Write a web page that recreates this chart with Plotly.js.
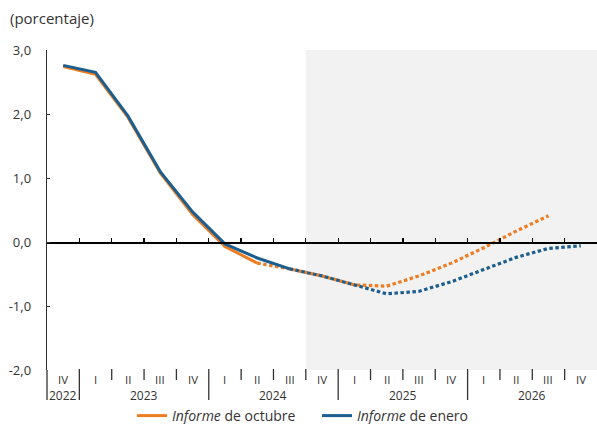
<!DOCTYPE html>
<html>
<head>
<meta charset="utf-8">
<script src="https://cdn.plot.ly/plotly-3.0.1.min.js"></script>
<style>html,body{margin:0;padding:0;background:#fff;}#chart{width:597px;height:424px;}</style>
</head>
<body>
<div id="chart"></div>
<script>
const quarters = ['IV','I','II','III','IV','I','II','III','IV','I','II','III','IV','I','II','III','IV'];
const years = ['2022','2023','2024','2025','2026'];
const yearCenters = [0, 2.5, 6.5, 10.5, 14.5];
const yearBoundaries = [0.5, 4.5, 8.5, 12.5];
const quarterBoundaries = [1.5, 2.5, 3.5, 5.5, 6.5, 7.5, 9.5, 10.5, 11.5, 13.5, 14.5, 15.5];
const octubre = [2.74, 2.62, 1.95, 1.08, 0.43, -0.07, -0.33, -0.42, -0.53, -0.67, -0.69, -0.53, -0.33, -0.09, 0.17, 0.41, null];
const enero = [2.76, 2.65, 1.97, 1.10, 0.47, -0.03, -0.25, -0.42, -0.53, -0.67, -0.81, -0.77, -0.62, -0.43, -0.24, -0.10, -0.06];
const octLastObs = 6;   // II 2024
const eneLastObs = 7;   // III 2024
const yTicks = [-2, -1, 0, 1, 2, 3];
const yTickText = ['-2,0', '-1,0', '0,0', '1,0', '2,0', '3,0'];

const idx = quarters.map((q, i) => i);
const ORANGE = '#EE7D22';
const BLUE = '#1C5E8D';
const FONT = '"Open Sans", "Noto Sans", sans-serif';

function seg(arr, from, to) {
  return arr.map((v, i) => (i >= from && i <= to) ? v : null);
}

const traces = [
  {x: idx, y: seg(octubre, 0, octLastObs), mode: 'lines', name: '<i>Informe</i> de octubre',
   line: {color: ORANGE, width: 3}, showlegend: true},
  {x: idx, y: seg(octubre, octLastObs, 16), mode: 'lines', showlegend: false,
   line: {color: ORANGE, width: 3.2, dash: '3.5px,2.5px'}},
  {x: idx, y: seg(enero, 0, eneLastObs), mode: 'lines', name: '<i>Informe</i> de enero',
   line: {color: BLUE, width: 3}, showlegend: true},
  {x: idx, y: seg(enero, eneLastObs, 16), mode: 'lines', showlegend: false,
   line: {color: BLUE, width: 3.2, dash: '3.5px,2.5px'}}
];

const plotH = 320;
const plotW = 550;
const pY = px => -px / plotH; // px below plot bottom -> paper

const shapes = [
  {type: 'rect', xref: 'x', yref: 'paper', x0: 7.5, x1: 16.5, y0: 0, y1: 1,
   fillcolor: '#F2F2F2', line: {width: 0}, layer: 'below'},
  {type: 'line', xref: 'paper', yref: 'paper', x0: 0, x1: 0, y0: 0, y1: pY(30),
   line: {color: '#333', width: 1.3}}
];
yearBoundaries.forEach(b => shapes.push({type: 'line', xref: 'x', yref: 'paper', x0: b, x1: b,
  y0: pY(-1), y1: pY(30), line: {color: '#333', width: 1.3}}));
quarterBoundaries.forEach(b => shapes.push({type: 'line', xref: 'x', yref: 'paper', x0: b, x1: b,
  y0: pY(-1), y1: pY(10), line: {color: '#333', width: 1.3}}));

const annotations = [
  {text: '(porcentaje)', xref: 'paper', yref: 'paper', x: -39/plotW, y: 1 + 32/plotH,
   xanchor: 'left', yanchor: 'middle', showarrow: false, font: {size: 15, color: '#333', family: FONT}}
];
quarters.forEach((q, i) => annotations.push({text: q, xref: 'x', yref: 'paper', x: i, y: pY(9),
  xanchor: 'center', yanchor: 'middle', showarrow: false, font: {size: 11.5, color: '#333', family: FONT}}));
years.forEach((yv, i) => annotations.push({text: yv, xref: 'x', yref: 'paper', x: yearCenters[i], y: pY(25),
  xanchor: 'center', yanchor: 'middle', showarrow: false, font: {size: 12, color: '#333', family: FONT}}));

const layout = {
  width: 597, height: 424,
  margin: {l: 47, r: 0, t: 50, b: 54, autoexpand: false},
  paper_bgcolor: '#fff', plot_bgcolor: 'rgba(0,0,0,0)',
  showlegend: true,
  legend: {orientation: 'h', x: (132 - 47) / plotW, xanchor: 'left', y: pY(46), yanchor: 'middle',
    font: {size: 14, color: '#333', family: FONT}, entrywidth: 140, traceorder: 'normal',
    bgcolor: 'rgba(0,0,0,0)'},
  xaxis: {range: [-0.5, 16.5], anchor: 'free', position: 0.4, showgrid: false, zeroline: false,
    showline: true, linecolor: '#000', linewidth: 1.5,
    tickmode: 'array', tickvals: [0.5,1.5,2.5,3.5,4.5,5.5,6.5,7.5,8.5,9.5,10.5,11.5,12.5,13.5,14.5,15.5],
    ticks: 'inside', ticklen: 4, tickwidth: 1.3, tickcolor: '#000', showticklabels: false, fixedrange: true},
  yaxis: {range: [-2, 3], showgrid: false, zeroline: false, showline: true, linecolor: '#333', linewidth: 1.3,
    tickmode: 'array', tickvals: yTicks, ticktext: yTickText, ticks: 'inside', ticklen: 3, tickcolor: '#333',
    tickfont: {size: 13, color: '#333', family: FONT}, ticklabelstandoff: 12, fixedrange: true},
  shapes: shapes,
  annotations: annotations
};

Plotly.newPlot('chart', traces, layout, {displayModeBar: false, staticPlot: true});
</script>
</body>
</html>
